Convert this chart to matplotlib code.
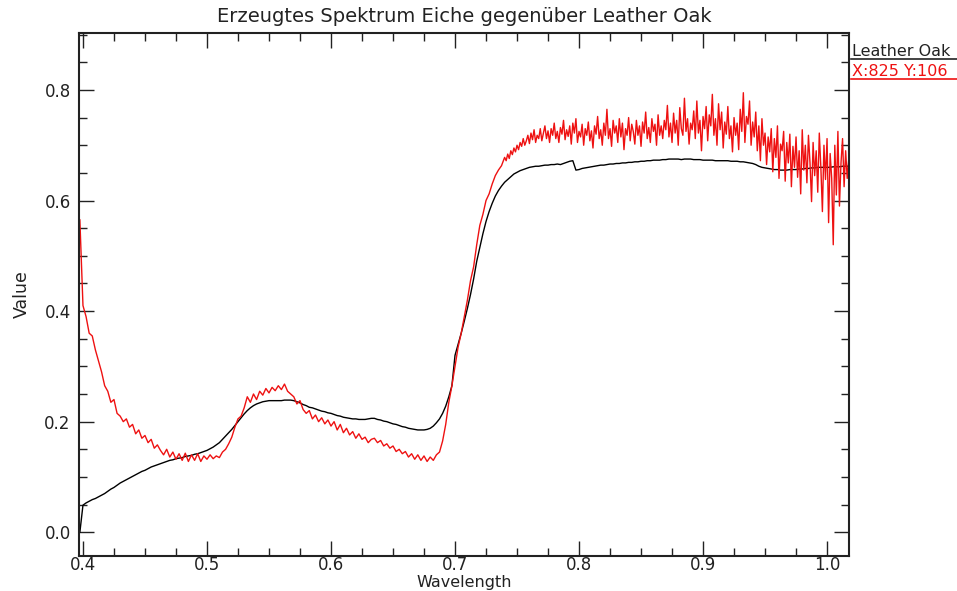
import numpy as np
import matplotlib
matplotlib.use("Agg")
import matplotlib.pyplot as plt
from matplotlib.ticker import MultipleLocator, FormatStrFormatter

# wavelength sampling grid (micrometres) of the library spectrum
wavelength = np.round(np.arange(0.3975, 1.0176, 0.0025), 4)

# "Leather Oak" library spectrum (black)
leather_oak = [
    0.000, 0.049, 0.053, 0.056, 0.059, 0.061, 0.064, 0.067, 0.070, 0.074,
    0.078, 0.081, 0.085, 0.089, 0.092, 0.095, 0.098, 0.101, 0.104, 0.107,
    0.110, 0.112, 0.115, 0.118, 0.120, 0.122, 0.124, 0.126, 0.128, 0.130,
    0.131, 0.133, 0.134, 0.135, 0.137, 0.138, 0.139, 0.141, 0.142, 0.144,
    0.146, 0.148, 0.151, 0.154, 0.158, 0.162, 0.168, 0.174, 0.180, 0.186,
    0.193, 0.200, 0.207, 0.214, 0.220, 0.225, 0.229, 0.232, 0.234, 0.236,
    0.237, 0.238, 0.238, 0.238, 0.238, 0.238, 0.239, 0.239, 0.239, 0.238,
    0.236, 0.234, 0.231, 0.229, 0.226, 0.225, 0.223, 0.221, 0.219, 0.218,
    0.216, 0.215, 0.213, 0.211, 0.210, 0.208, 0.207, 0.206, 0.205, 0.205,
    0.204, 0.204, 0.204, 0.205, 0.206, 0.206, 0.204, 0.203, 0.201, 0.200,
    0.198, 0.196, 0.195, 0.193, 0.191, 0.190, 0.188, 0.187, 0.186, 0.185,
    0.185, 0.185, 0.186, 0.188, 0.192, 0.198, 0.205, 0.215, 0.228, 0.245,
    0.265, 0.320, 0.340, 0.360, 0.382, 0.405, 0.430, 0.458, 0.490, 0.515,
    0.540, 0.562, 0.580, 0.595, 0.608, 0.618, 0.626, 0.633, 0.638, 0.643,
    0.648, 0.651, 0.654, 0.656, 0.658, 0.660, 0.661, 0.662, 0.662, 0.663,
    0.664, 0.664, 0.665, 0.665, 0.666, 0.665, 0.667, 0.669, 0.671, 0.672,
    0.655, 0.656, 0.658, 0.659, 0.660, 0.661, 0.662, 0.663, 0.664, 0.664,
    0.665, 0.666, 0.666, 0.667, 0.667, 0.668, 0.668, 0.669, 0.669, 0.670,
    0.670, 0.671, 0.671, 0.672, 0.672, 0.673, 0.673, 0.673, 0.674, 0.674,
    0.675, 0.675, 0.675, 0.675, 0.674, 0.675, 0.675, 0.675, 0.674, 0.674,
    0.674, 0.673, 0.673, 0.673, 0.673, 0.672, 0.672, 0.672, 0.672, 0.672,
    0.671, 0.671, 0.671, 0.670, 0.670, 0.669, 0.668, 0.667, 0.665, 0.662,
    0.660, 0.659, 0.658, 0.657, 0.656, 0.656, 0.655, 0.655, 0.655, 0.656,
    0.656, 0.656, 0.657, 0.657, 0.658, 0.658, 0.659, 0.659, 0.660, 0.660,
    0.660, 0.660, 0.660, 0.661, 0.661, 0.661, 0.662, 0.662, 0.662,
]

# wavelength grid of the generated spectrum (finer sampling in the NIR)
wavelength_eiche = np.round(np.concatenate([
    np.arange(0.3975, 0.74001, 0.0025),
    np.arange(0.74125, 1.01751, 0.00125)]), 5)

# generated oak ("Eiche") spectrum (red)
eiche = [
    0.565, 0.410, 0.390, 0.360, 0.355, 0.330, 0.310, 0.290, 0.265, 0.255,
    0.235, 0.240, 0.215, 0.210, 0.200, 0.205, 0.190, 0.195, 0.178, 0.185,
    0.170, 0.175, 0.162, 0.168, 0.152, 0.158, 0.148, 0.140, 0.150, 0.136,
    0.145, 0.132, 0.142, 0.130, 0.143, 0.128, 0.140, 0.130, 0.142, 0.128,
    0.138, 0.132, 0.140, 0.133, 0.138, 0.135, 0.145, 0.150, 0.160, 0.172,
    0.190, 0.205, 0.210, 0.225, 0.245, 0.235, 0.250, 0.240, 0.255, 0.248,
    0.260, 0.252, 0.262, 0.256, 0.265, 0.258, 0.268, 0.255, 0.250, 0.245,
    0.232, 0.238, 0.222, 0.215, 0.220, 0.205, 0.212, 0.200, 0.207, 0.196,
    0.203, 0.192, 0.200, 0.185, 0.195, 0.180, 0.188, 0.176, 0.182, 0.170,
    0.178, 0.168, 0.172, 0.162, 0.168, 0.170, 0.162, 0.166, 0.156, 0.160,
    0.152, 0.156, 0.146, 0.150, 0.142, 0.146, 0.136, 0.142, 0.132, 0.140,
    0.130, 0.138, 0.128, 0.136, 0.130, 0.140, 0.145, 0.165, 0.195, 0.235,
    0.265, 0.300, 0.335, 0.360, 0.390, 0.420, 0.455, 0.480, 0.520, 0.555,
    0.575, 0.600, 0.612, 0.630, 0.645, 0.655, 0.663, 0.678,
    # 0.74125 ... 1.0175
    0.672, 0.684, 0.676, 0.690, 0.683, 0.695, 0.688, 0.700, 0.692, 0.705,
    0.698, 0.712, 0.700, 0.708, 0.718, 0.703, 0.722, 0.710, 0.728, 0.705,
    0.718, 0.712, 0.730, 0.708, 0.722, 0.735, 0.712, 0.726, 0.705, 0.730,
    0.718, 0.740, 0.712, 0.725, 0.705, 0.732, 0.720, 0.745, 0.710, 0.728,
    0.716, 0.735, 0.702, 0.740, 0.722, 0.748, 0.705, 0.725, 0.715, 0.738,
    0.700, 0.730, 0.718, 0.742, 0.708, 0.726, 0.695, 0.735, 0.720, 0.752,
    0.712, 0.728, 0.700, 0.740, 0.718, 0.765, 0.712, 0.730, 0.698, 0.745,
    0.722, 0.735, 0.705, 0.748, 0.715, 0.740, 0.692, 0.730, 0.718, 0.750,
    0.708, 0.738, 0.725, 0.702, 0.745, 0.718, 0.735, 0.698, 0.742, 0.722,
    0.760, 0.712, 0.732, 0.705, 0.748, 0.725, 0.738, 0.700, 0.755, 0.718,
    0.735, 0.712, 0.745, 0.728, 0.772, 0.715, 0.740, 0.705, 0.758, 0.722,
    0.745, 0.700, 0.768, 0.730, 0.718, 0.785, 0.725, 0.748, 0.702, 0.740,
    0.728, 0.762, 0.712, 0.780, 0.722, 0.745, 0.690, 0.752, 0.730, 0.770,
    0.708, 0.755, 0.735, 0.792, 0.718, 0.748, 0.700, 0.775, 0.728, 0.760,
    0.695, 0.742, 0.720, 0.770, 0.712, 0.735, 0.688, 0.750, 0.718, 0.740,
    0.692, 0.765, 0.725, 0.795, 0.705, 0.752, 0.738, 0.780, 0.700, 0.742,
    0.715, 0.760, 0.690, 0.735, 0.672, 0.748, 0.700, 0.722, 0.665, 0.715,
    0.688, 0.730, 0.652, 0.712, 0.678, 0.735, 0.640, 0.702, 0.690, 0.725,
    0.635, 0.705, 0.668, 0.720, 0.625, 0.698, 0.660, 0.715, 0.642, 0.690,
    0.612, 0.728, 0.655, 0.700, 0.632, 0.718, 0.668, 0.598, 0.705, 0.645,
    0.690, 0.615, 0.722, 0.660, 0.580, 0.700, 0.638, 0.712, 0.560, 0.685,
    0.640, 0.520, 0.700, 0.610, 0.725, 0.590, 0.668, 0.712, 0.625, 0.690,
    0.640, 0.675,
]

assert len(wavelength) == len(leather_oak)
assert len(wavelength_eiche) == len(eiche)

x_ticks = [0.4, 0.5, 0.6, 0.7, 0.8, 0.9, 1.0]
y_ticks = [0.0, 0.2, 0.4, 0.6, 0.8]

plt.rcParams['font.family'] = ['DejaVu Sans']
fig = plt.figure(figsize=(9.57, 5.91), dpi=100)
ax = fig.add_axes([79/957, 1 - 556/591, (849-79)/957, (556-33)/591])

ax.plot(wavelength, leather_oak, color='black', lw=1.0)
ax.plot(wavelength_eiche, eiche, color='#ee1111', lw=1.0)

ax.set_xlim(0.3968, 1.0177)
ax.set_ylim(-0.043, 0.903)
ax.set_xticks(x_ticks)
ax.set_yticks(y_ticks)
ax.xaxis.set_minor_locator(MultipleLocator(0.025))
ax.yaxis.set_minor_locator(MultipleLocator(0.05))
ax.xaxis.set_major_formatter(FormatStrFormatter('%.1f'))
ax.yaxis.set_major_formatter(FormatStrFormatter('%.1f'))
ax.tick_params(which='both', direction='in', top=True, right=True,
               labelsize=12, colors='#222222', width=1.0)
ax.tick_params(which='major', length=11)
ax.tick_params(axis='x', which='major', pad=0)
ax.tick_params(axis='y', which='major', pad=6)
ax.tick_params(which='minor', length=6)
for s in ax.spines.values():
    s.set_linewidth(1.5)
    s.set_color('#222222')

ax.set_ylabel('Value', fontsize=12.5, labelpad=10, color='#222222')
fig.text(464/957, 1 - 582/591, 'Wavelength', ha='center', va='center',
         fontsize=11.5, color='#222222')
fig.text(464/957, 1 - 16/591, 'Erzeugtes Spektrum Eiche gegenüber Leather Oak',
         ha='center', va='center', fontsize=14, color='#222222')

# legend outside the plot, underlined names
fig.text(852/957, 1 - 51/591, 'Leather Oak', ha='left', va='center',
         fontsize=11.5, color='#222222')
fig.add_artist(plt.Line2D([851/957, 1.0], [1 - 59/591, 1 - 59/591],
                          color='#222222', lw=1.2, transform=fig.transFigure))
fig.text(852/957, 1 - 71/591, 'X:825 Y:106', ha='left', va='center',
         fontsize=11.5, color='#ee1111')
fig.add_artist(plt.Line2D([851/957, 1.0], [1 - 79/591, 1 - 79/591],
                          color='#ee1111', lw=1.2, transform=fig.transFigure))

fig.savefig('out.png', dpi=100)
